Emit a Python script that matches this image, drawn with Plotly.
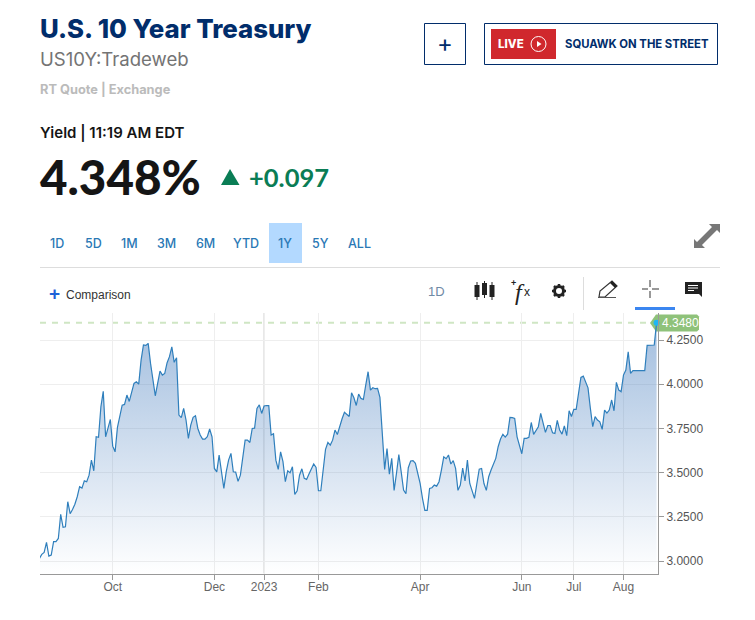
import pandas as pd
import plotly.graph_objects as go

W = 755
H = 620

yields = [
    3.015, 3.038, 3.049, 3.106, 3.028, 3.034, 3.110, 3.110, 3.128, 3.264, 3.191, 3.194, 3.336, 3.268, 3.292, 3.322,
    3.364, 3.421, 3.413, 3.454, 3.449, 3.486, 3.571, 3.511, 3.703, 3.700, 3.873, 3.960, 3.703, 3.750, 3.801, 3.650,
    3.618, 3.756, 3.826, 3.882, 3.886, 3.939, 3.903, 3.952, 4.005, 4.014, 4.001, 4.137, 4.222, 4.220, 4.231, 4.118,
    4.014, 3.935, 4.005, 4.075, 4.052, 4.061, 4.122, 4.156, 4.212, 4.124, 4.150, 3.826, 3.811, 3.864, 3.798, 3.694,
    3.769, 3.813, 3.822, 3.750, 3.713, 3.690, 3.690, 3.703, 3.747, 3.703, 3.524, 3.505, 3.600, 3.515, 3.411, 3.505,
    3.571, 3.609, 3.505, 3.503, 3.451, 3.486, 3.590, 3.684, 3.684, 3.671, 3.750, 3.752, 3.863, 3.884, 3.835, 3.877,
    3.880, 3.879, 3.713, 3.720, 3.571, 3.519, 3.618, 3.562, 3.449, 3.511, 3.500, 3.534, 3.377, 3.398, 3.486, 3.522,
    3.468, 3.462, 3.492, 3.520, 3.549, 3.530, 3.398, 3.398, 3.534, 3.632, 3.671, 3.656, 3.684, 3.741, 3.716, 3.764,
    3.805, 3.841, 3.828, 3.818, 3.952, 3.924, 3.880, 3.945, 3.920, 3.914, 3.995, 4.071, 3.967, 3.980, 3.975, 3.977,
    3.926, 3.703, 3.519, 3.637, 3.492, 3.581, 3.400, 3.496, 3.603, 3.505, 3.402, 3.381, 3.528, 3.566, 3.568, 3.553,
    3.496, 3.439, 3.355, 3.287, 3.287, 3.411, 3.415, 3.430, 3.424, 3.449, 3.515, 3.590, 3.579, 3.600, 3.549, 3.568,
    3.524, 3.400, 3.430, 3.526, 3.453, 3.571, 3.439, 3.402, 3.355, 3.439, 3.520, 3.524, 3.439, 3.400, 3.477, 3.515,
    3.547, 3.581, 3.647, 3.690, 3.717, 3.701, 3.718, 3.813, 3.811, 3.807, 3.703, 3.647, 3.607, 3.694, 3.694, 3.700,
    3.784, 3.717, 3.741, 3.760, 3.835, 3.788, 3.728, 3.767, 3.767, 3.726, 3.722, 3.796, 3.741, 3.718, 3.765, 3.709,
    3.850, 3.818, 3.858, 3.858, 3.948, 4.039, 4.046, 4.014, 3.980, 3.864, 3.760, 3.817, 3.798, 3.788, 3.745, 3.854,
    3.837, 3.854, 3.911, 3.850, 4.011, 3.967, 3.958, 4.052, 4.080, 4.184, 4.061, 4.077, 4.077, 4.077, 4.077, 4.077,
    4.077, 4.220, 4.222, 4.222, 4.222, 4.348,
]
dates = pd.bdate_range("2022-08-19", periods=len(yields)).strftime("%Y-%m-%d").tolist()

x_tick_dates = ["2022-10-03", "2022-12-01", "2022-12-30", "2023-02-01", "2023-04-03", "2023-06-01", "2023-07-03", "2023-08-01"]
x_tick_labels = ["Oct", "Dec", "2023", "Feb", "Apr", "Jun", "Jul", "Aug"]
y_ticks = [3.0, 3.25, 3.5, 3.75, 4.0, 4.25]
range_buttons = ["1D", "5D", "1M", "3M", "6M", "YTD", "1Y", "5Y", "ALL"]
range_button_x = [57, 93, 129, 166, 205, 246, 285, 320, 359]

NAVY = "#012d6b"
SANS = "Inter"
ARIAL = "Liberation Sans"


def px(x):
    return x / W


def py(y):
    return 1 - y / H


def text(x, y, s, size, color, font=SANS, weight=400, anchor="left"):
    # annotations sit about a pixel in from their anchor
    fig.add_annotation(
        x=px(x - 1 if anchor == "left" else x), y=py(y), xref="paper", yref="paper", text=s,
        showarrow=False, xanchor=anchor, yanchor="middle", borderpad=0,
        font=dict(family=font, size=size, color=color, weight=weight),
    )


def rect(x0, y0, x1, y1, fill="rgba(0,0,0,0)", line=None, width=1):
    fig.add_shape(
        type="rect", xref="paper", yref="paper", x0=px(x0), x1=px(x1), y0=py(y0), y1=py(y1),
        fillcolor=fill, line=dict(color=line, width=width if line else 0),
    )


def seg(x0, y0, x1, y1, color, width=1, dash=None):
    fig.add_shape(
        type="line", xref="paper", yref="paper", x0=px(x0), x1=px(x1), y0=py(y0), y1=py(y1),
        line=dict(color=color, width=width, dash=dash),
    )


def poly(points, fill=None, line=None, width=1, layer="above"):
    path = "M " + " L ".join(f"{px(a):.5f} {py(b):.5f}" for a, b in points) + " Z"
    fig.add_shape(
        type="path", xref="paper", yref="paper", path=path, layer=layer,
        fillcolor=fill if fill else "rgba(0,0,0,0)", line=dict(color=line, width=width if line else 0),
    )


fig = go.Figure()
fig.add_trace(go.Scatter(
    x=dates, y=yields, mode="lines", line=dict(color="#2f7fbc", width=1.2),
    fill="tozeroy",
    fillgradient=dict(
        type="vertical", start=2.93, stop=4.35,
        colorscale=[[0, "rgba(70,125,190,0)"], [1, "rgba(70,125,190,0.5)"]],
    ),
    hoverinfo="skip", showlegend=False,
))

fig.update_layout(
    width=W, height=H, autosize=False, margin=dict(l=0, r=0, t=0, b=0),
    paper_bgcolor="white", plot_bgcolor="white", showlegend=False,
    xaxis=dict(
        type="category", domain=[px(40), px(658)], range=[0.25, 261.6], tickmode="array",
        tickvals=x_tick_dates, ticktext=x_tick_labels, tickangle=0, ticklabelstandoff=-3,
        showgrid=True, gridcolor="#eeeeee", gridwidth=1, zeroline=False,
        showline=True, linecolor="#999999", linewidth=1, ticks="outside", ticklen=5, tickcolor="#999999",
        tickfont=dict(family=ARIAL, size=12, color="#666666"),
    ),
    yaxis=dict(
        domain=[py(573.5), py(313)], range=[2.93, 4.403], side="right", tickmode="array",
        tickvals=y_ticks, tickformat=".4f", showgrid=True, gridcolor="#eeeeee", gridwidth=1, zeroline=False,
        showline=True, linecolor="#999999", linewidth=1, ticks="outside", ticklen=5, tickcolor="#999999",
        tickfont=dict(family=ARIAL, size=12, color="#555555"),
    ),
)

# header
text(40, 28, "U.S. 10 Year Treasury", 25.8, NAVY, weight=800)
text(40, 59, "US10Y:Tradeweb", 18.6, "#747474")
text(40, 89, "RT Quote | Exchange", 12.8, "#bbbbbb", weight=700)
text(40, 132, "Yield | 11:19 AM EDT", 15, "#151515", weight=600)
text(40, 177, "4.348%", 47.5, "#151515", font="Lato", weight=900)
poly([(221, 185), (239.5, 185), (230, 169)], fill="#0a7d55")
text(249, 177, "+0.097", 25.5, "#0a7d55", font="Lato", weight=700)

rect(424.5, 23.5, 465.5, 64.5, line=NAVY)
text(445, 44, "+", 24, NAVY, anchor="center")
rect(484.5, 23.5, 717.5, 64.5, line=NAVY)
rect(491, 29, 556, 59, fill="#d0282d")
text(498, 44, "LIVE", 11.5, "white", weight=800)
fig.add_shape(type="circle", xref="paper", yref="paper", x0=px(531), x1=px(546), y0=py(36.5), y1=py(51.5),
              line=dict(color="white", width=1))
poly([(537, 41), (537, 47), (541.5, 44)], fill="white")
text(565, 44, "SQUAWK ON THE STREET", 11.3, NAVY, weight=700)

# range selector
rect(269, 223, 302, 263, fill="#b3d9ff")
for label, bx in zip(range_buttons, range_button_x):
    text(bx, 243.5, label, 12.5, "#2a78b5", anchor="center", weight=500)
seg(40, 267.5, 720, 267.5, "#dddddd")
poly([(694, 248), (694, 239), (697, 242), (712, 227), (709, 224), (720, 224), (720, 233), (717, 230), (702, 245), (705, 248)],
     fill="#777777")

# toolbar
text(49, 294, "+", 19, "#1d62d8", font=ARIAL, weight=700)
text(66, 295, "Comparison", 12, "#333333", font=ARIAL)
text(436, 291, "1D", 13, "#6f8aa5", font=ARIAL, anchor="center")
for cx, y0, y1 in [(477, 285, 297), (484.5, 283, 295), (492, 285, 297)]:
    seg(cx, 281 if cx == 484.5 else y0 - 3, cx, y1 + 3, "#222222", 1)
    rect(cx - 2.5, y0, cx + 2.5, y1, fill="#222222")
text(520, 292, "<i>f</i>", 24, "#222222", font="Liberation Serif", anchor="center")
text(527, 292, "x", 12, "#222222", font=ARIAL, anchor="center")
text(513, 283, "+", 9, "#222222", font=ARIAL, anchor="center", weight=700)
# gear: ring with eight teeth
fig.add_shape(type="circle", xref="paper", yref="paper", x0=px(554.5), x1=px(563.5), y0=py(286.5), y1=py(295.5),
              line=dict(color="#222222", width=3))
for x0, y0, x1, y1 in [(559, 284, 559, 298), (552, 291, 566, 291), (554, 286, 564, 296), (554, 296, 564, 286)]:
    for a, b in [(x0, y0), (x1, y1)]:
        seg(a, b, a + (559 - a) * 0.25, b + (291 - b) * 0.25, "#222222", 2.5)
seg(583.5, 277, 583.5, 310, "#dddddd")
poly([(599, 297), (600, 291), (612, 281), (617, 286), (605, 297)], line="#333333", width=1.2)
poly([(610, 283), (612, 281), (617, 286), (615, 288)], fill="#222222")
seg(598, 297.5, 616, 297.5, "#555555", 1)
seg(642, 289, 648, 289, "#777777", 1.5)
seg(652, 289, 659, 289, "#777777", 1.5)
seg(650, 280, 650, 287, "#777777", 1.5)
seg(650, 291, 650, 298, "#777777", 1.5)
rect(635, 307, 675, 310, fill="#3b86f0")
poly([(685, 282), (702, 282), (702, 297), (699, 294), (685, 294)], fill="#222222")
for ly, lx in [(285.5, 698), (288, 698), (290.5, 694)]:
    seg(688, ly, lx, ly, "white", 1)

# last value marker
fig.add_shape(type="line", xref="paper", yref="y", x0=px(40), x1=px(652), y0=yields[-1], y1=yields[-1],
              line=dict(color="#cfe6c4", width=2, dash="6px,6px"), layer="below")
fig.add_shape(type="line", xref="x", yref="paper", x0="2022-12-30", x1="2022-12-30", y0=py(573.5), y1=py(313),
              line=dict(color="#cccccc", width=1), layer="below")
poly([(650, 323), (656, 314.5), (697, 314.5), (699, 316.5), (699, 329.5), (697, 331.5), (656, 331.5)],
     fill="#8fc27a", layer="below")
text(662, 323, "4.3480", 12, "white", font=ARIAL)
fig.add_trace(go.Scatter(
    x=[dates[-1]], y=[yields[-1]], mode="markers", marker=dict(color="#1fb6f5", size=6),
    hoverinfo="skip", showlegend=False, cliponaxis=False,
))

fig.write_html("out.html", config={"displayModeBar": False},
               post_script="document.body.style.margin='0';document.body.style.overflow='hidden';")
